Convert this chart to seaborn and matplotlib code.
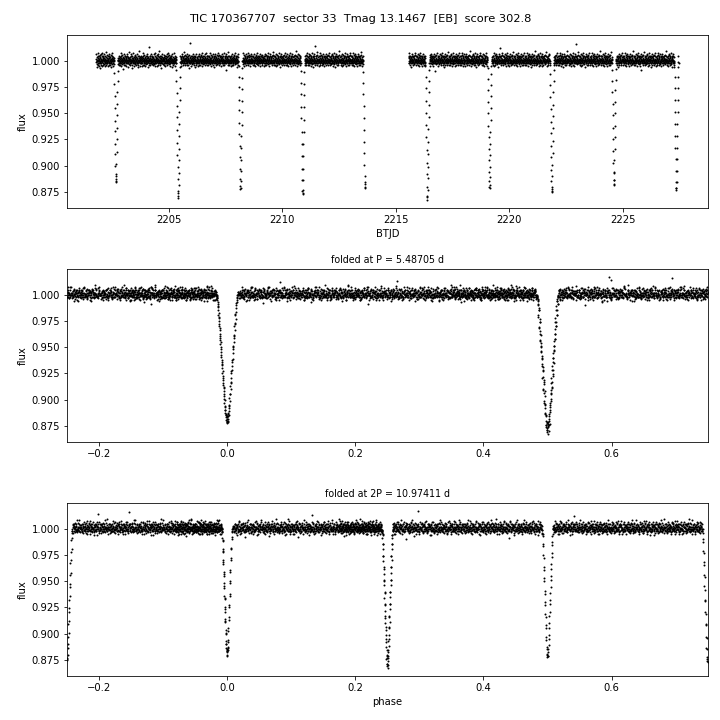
import numpy as np
import pandas as pd
import seaborn as sns
import matplotlib
matplotlib.use("Agg")
import matplotlib.pyplot as plt

# target info
tic = 170367707
sector = 33
tmag = 13.1467
score = 302.8
period = 5.487055
p_label = "5.48705"
p2_label = "10.97411"
t0 = 2202.676
cadence = 10.0 / 1440.0  # 10 min FFI

# the two orbits of the sector (BTJD)
seg_start = [2201.80, 2215.57]
seg_end = [2213.66, 2227.47]

# eclipse mid-times (every half period)
ecl_mid = [2202.676, 2205.420, 2208.163, 2210.907, 2213.650,
           2216.394, 2219.137, 2221.881, 2224.624, 2227.368]

# flux x1000 inside each eclipse, one value per cadence from -13 to +13
ecl_flux = [
    [1000, 997, 988, 978, 966, 955, 943, 933, 921, 911, 900, 890, 885, 884, 887, 892, 902, 913, 925, 936, 948, 959, 970, 981, 990, 997, 1000],
    [998, 991, 981, 969, 957, 946, 934, 922, 910, 899, 887, 876, 871, 869, 874, 882, 893, 905, 916, 928, 940, 951, 963, 974, 985, 994, 999],
    [999, 995, 985, 975, 963, 953, 941, 930, 919, 908, 897, 887, 881, 878, 879, 885, 895, 905, 917, 928, 939, 951, 962, 973, 984, 993, 1000],
    [998, 990, 979, 968, 956, 945, 932, 921, 909, 897, 886, 876, 874, 873, 877, 886, 897, 909, 921, 932, 944, 956, 967, 978, 989, 996, 1000],
    [1000, 997, 989, 979, 968, 957, 945, 934, 923, 912, 901, 890, 883, 879, 880, 884, 893, 903, 914, 925, 936, 947, 958, 970, 980, 990, 998],
    [999, 995, 985, 974, 962, 950, 939, 927, 915, 903, 892, 880, 871, 867, 870, 877, 888, 899, 911, 923, 935, 946, 958, 970, 981, 991, 998],
    [999, 993, 983, 972, 961, 950, 938, 927, 916, 905, 894, 885, 880, 879, 882, 889, 899, 910, 921, 932, 944, 955, 966, 977, 987, 995, 1000],
    [1000, 996, 987, 977, 965, 954, 942, 931, 919, 908, 896, 885, 878, 875, 876, 880, 890, 901, 912, 924, 936, 947, 958, 970, 981, 991, 998],
    [998, 991, 981, 970, 959, 948, 936, 925, 914, 903, 893, 886, 883, 882, 886, 894, 905, 916, 927, 938, 950, 961, 972, 982, 992, 998, 1001],
    [999, 994, 985, 974, 963, 951, 940, 928, 917, 906, 895, 884, 879, 877, 879, 884, 895, 906, 917, 928, 940, 951, 963, 974, 985, 994, 999],
]

# out-of-eclipse scatter, one character per cadence, read as a level of
# 0.0006 in this alphabet ('U' = 1.000)
levels = "0123456789ABCDEFGHIJKLMNOPQRSTUVWXYZabcdefghijklmnopqrstuvwxyz"
noise = (
    "SXeUPaKWTbRYgVOUcQXMTWdSJYUaRVfNXTQbWhUSLZRVaOXcTWPYUeRSMXVbTQiWUNaYSRd"
    "VQbTXLWUcRZOYSfTVNaWQXUdRSKYTbVPWgXURaMTVZQcSWOXhURYbTJVSaXNWeQUTZRbPYV"
    "WRZTcNVSXaQUOgYTWLbRVSXdUPZTHaWQVYeRSNXTbUcWOVRaMYSXfTQUWbKRVZSaXPUiTWY"
    "TUaNXRVeSWQbOYTUJcVRXSZgWTQUaMVYRbSXPdTWUNVaQRYfSXTcUOWKRZVbTSjXQaUWMYR"
    "QYcVSULaXRTbWOZgTVSdQUNXYRaWTMVcSPUXeRWTbQYZKUVaSXRqTWOcUQYNVbRSXTfWaPU"
    "XSbUWNaTRYQeVPXUcSTgWRLZUaVQXdTSMYWbRUOVfXTaSQWkRYUcNVTZXbQSJWUaRVeTXPY"
    "UVaRXOdTWSbQYLUVcXRZTfSQWaNUXVbRTgYSPWdUQZXaTRMVcSWYbUKRXeTVQaSWOUhXRZT"
    "RZTbVSMXWaQUfRYTcOVXSUdWNQaTYRgXVbSUPWcTLZRaXQVeSTUbWRYNaVXiSQTcUWOZRdX"
    "YUcQTXNVaSRWeTOZUbXRJVdSWTaQYwURMXVcSTWbPRZUaXQfVTSNWcRYUbXTKVaSWQeRUO"
    "SWaVRYMTUcXQbSOWfTRVaUNYXdQSWbTLVRgUXaSPZTcWQVUbRXeSTNYaWVRhUQXcTSOWbZ"
    "TRbUXNaVWScQYPTUgXRVdSWMZaTQUbRXeVSOWTcYUKaRXVbSQfWTUNZRaXVSdPWTcUQYhR"
    "VXdSTOaRWUbQZMVTcXSUfRWYaNQTVbXSgUROWcTVaSQYFXeURbTWZVaSNXQcUTiRWVbOSY"
    "WTaQUMXVcRSbYOTWeUXRaSNVQdTZWbUXgSRPVaTUcQWYKXbRSVeTUaNWXQcRSZbTVOUfWY"
    "UScVRNWaTXbQYPUSgVRWdTXLaUQbSZRVeTWNXcUSaQYRbVTOWhXUaRSdTVMQbWZXcRUSfT"
    "RVbXSOaUTWcQZNVRfSXUaWTMbYQVdRXSaUPWgTZVcRNUXbSWaQTeVRYLUcXSbWTaROVdQZ"
    "XTaSVLYcUWRbQOXTeVSUdRWNZaXQVbTSgUPWcRYXaVMSTbUQfWRZaXVScTOUbRWdQSiYVN"
    "SUcRWOaVTXbQYMSUeVRTdXWNaSQZbUVgTRPXcWSaUKVQbRTYeXUSaNWVcTRbQZOXdUSWhV"
    "WRaTUNXbVScQYOTRfUXVaSWLdTQZbURXgVSPWaTcUYMXQbRVeSUTNaWXcRVbQSOZdTUWjR"
    "TXbUSMaWRVcQZPTUeXSRdVWNaUQYbTSgXRPVcWUaSLZTbXRVfQUSaWNTcRXbVYOUdSWQhT"
    "VScXROaUTWbQYNVSfRXUdTWMaZQVbSRgUXPWcTVaRKYSbUQeXTWsNRVcSUbQZOXdTRWiVU"
    "URaVXMbSTWcQZOURgVXSdTWNaUQYbRSeXVPWcTUaSLRZbXQVfTSUaWNRcYVbQXOTdUSWhR"
    "XVbSRNaUWTcQYPXVeSRUdWTMaQZbUSgRXPVcTWaUKYRbSQeXVTaNWUcRSbZQOXdVTWjUS"
    "SWaTUOcRVXbQZMSWfTUVdRXNaYQbTSgUVPRcWXaTLSZbUQeVRWaNTXcSUbYQOVdRTWhXU"
    "TUcRWNaXVSbQYOTUgRWXdVSLaZQbTRfXUPVcSWaRMYTbUQeXWVaNSRcTUbZQOXdVSWiRT"
    "RXaUSMbVWTcQZPRXeUSVdWTNaQYbRUgSXOVcTWaUKZRbSQfXVTaNWUcSRbYQPXdVTWhUS"
    "VTbSXOaRUWcQYNVTfSXRdUWMaZQbVSgXTPRcUWaSLYVbTQeXRUaNSWcTXbZQOVdRSUjWT"
    "WScTRNaXUVbQZOWSgTRXdUVLaQYbWTfRSPXcVUaTMZRbSQeWXUaDTVcRSbYQPXdUTWhRV"
    "UVaXSMbTRWcQYPUVeXSTdRWNaZQbUXgSVORcTWaXKYSbRQfVUTaNWRcSXbZQOUdVSWiTX"
    "SRbWTOaVXUcQZNSRfWTVdXUMaQYbSRgTWPVcXUaRLZTbWQeSVXaNUTcRWbYQOSdVXUhTR"
    "XUaRVNbSTWcQYOXUgRVSdTWLaZQbXUeVRPScTWaUMYRbVQfSXTaNWRcUVbZQOXdSTWjRU"
    "TWcSXMaUVRbQZPTWeSXUdRVNaQYbTSgXWORcUVaSKZXbRQeTWUaNSVcXRbYQPTdUSWhVX"
    "RSbVUOaTXWcQYNRSfVUTdXWMaZQbRVgUSPTcXWaVLYUbSQeRTXaNWVcSUbZQOTdRXWiUS"
    "VXaTROcSWUbQZMVXgTRSdUWNaQYbVTeRXPScWUaTKZSbXQfVRUaoTWcRSbYQOVdXTUhRW"
    "USbRWOaXTVcQYPUSeRWXdVTLaZQbUWgRSOXcVTaRMYWbSQeUXVaNRTcWSbZQPUdRXViTS"
    "WVcSTNaRUXbQZOWVfSTRdXUMaQYbWSgTUPRcXUaSLZVbTQeWRXaNSUcVTbYQOWdSRXhUT"
    "TRaXVObUSWcQYNTRgXVUdSWLaZQbTXeVRPUcSWaXKYRbVQfTSUaNWXcRVbZQOTdUSWjVR"
    "XWbUSNaVRTcQZPXWeUSVdRTMaQYbXUgSWORcVTaUMZSbRQeXWVaNTScUVbYQPXdRSTiWU"
    "STcVXMaWURbQYOSTfVXWdUROaZQbSVgXTPWcURaVLYXbUQeSTWaNVRcXUbZQOSdWTRhVX"
    "VUaRTObXSWcQZNVUgRTXdSWMaQYbVReTUPXcSWaRKZUbTQfVXSaNRWcTUbYQOVdXSRjUW"
    "UXbSWNaTVRcQYPUXeSWTdVRLaZQbUSgWXOTcRVaSMYWbXQeUTRauSVcWXbZQPUdTRViSX"
    "RTcWUOaSXVbQZMRTfWUSdXVNaQYbRWgUTPScVXaWKZTbUQeRSVaNXUcTWbYQORdSVXhTU"
    "WRaUVNbTSXcQYORWgUVTdSXMaZQbWUeVRPTcXSaULYRbVQfWTXaNUScRVbZQPWdTUSjXV"
    "TVbXRObUWScQZNTVeXRWdUSLaQYbTXgRVPUcSWaXMZVbRQeTUSaNWRcXTbYQOTdUWRiSV"
    "SXaVTMcRUWbQYPSXfVTRdWUNaZQbSVgTXOWcURaVKYXbTQeSRUaNVWcXSbZQOSdRUTaVWhX"
    "XSbTWNaVRUcQZOXSgTWVdRUMaQYbXTeWSPVcURaTLZSbWQfXVRaNUTcSWbYQPXdVRUjTS"
    "VUcRSOaXTWbQYNVUeRSXdTWLaZQbVRgSUPXcTWaRMYUbSQeVXTaGWScRUbZQOVdXTSiWR"
    "UWaSXNbRVTcQZPUWfSXRdVTMaQYbUXgRWOTcVSaXKZRbVQeUTWaNSXcRVbYQOUdSWThRX"
    "RVbTUMaSWXcQYORVgTUSdWXNaZQbRSeUTPWcXVaSLYTbXQfRWUaNTVcSXbZQPRdWUXjSV"
    "TScXVNaUWRbQZMTSeXVWdRUOaQYbTWgVSPRcUXaWKZVbSQeTRUaNXWcVSbYQOTdRUWiXS"
    "WXaRSObTVUcQYNWXfRSTdUVLaZQbWReSXPUcTVaRMYSbUQeWTXaNVUcRTbZQPWdUSViRT"
    "STbUXMaVRWcQZOSTgUXVdWRNaQYbSUeXTPVcWRaUKZXbTQfSVWaNRXcUTbYQOSdVWRhUT"
    "UVcWROaXSTbQYPUVeWRXdSTMaZQbUWgRVOScTXaWLYRbSQeUXSaNTRcWVbZQPUdXSTjVW"
)

# build the light curve
times, fluxes = [], []
pos = 0
for a, b in zip(seg_start, seg_end):
    n = min(int(round((b - a) / cadence)) + 1, len(noise) - pos)
    t = a + cadence * np.arange(n)
    codes = np.array([levels.index(c) for c in noise[pos:pos + n]])
    pos += n
    times.append(t)
    fluxes.append(1.0 + (codes - levels.index("U")) * 0.0006)
time = np.concatenate(times)
flux = np.concatenate(fluxes)

for tc, prof in zip(ecl_mid, ecl_flux):
    k = np.round((time - tc) / cadence).astype(int)
    sel = np.abs(k) <= 13
    flux[sel] = np.array(prof)[k[sel] + 13] / 1000.0

df = pd.DataFrame({"time": time, "flux": flux})
df["phase"] = ((df["time"] - t0) / period + 0.25) % 1 - 0.25
df["phase2"] = ((df["time"] - t0) / (2 * period) + 0.25) % 1 - 0.25

fig, axes = plt.subplots(3, 1, figsize=(10, 10), dpi=72)
fig.subplots_adjust(left=0.093, right=0.983, top=0.951, bottom=0.061, hspace=0.353)

kw = dict(s=4, color="k", linewidth=0, legend=False)
sns.scatterplot(data=df, x="time", y="flux", ax=axes[0], **kw)
axes[0].set_xlabel("BTJD")
axes[0].set_ylabel("flux")

sns.scatterplot(data=df, x="phase", y="flux", ax=axes[1], **kw)
axes[1].set_xlim(-0.25, 0.75)
axes[1].set_xlabel("")
axes[1].set_ylabel("flux")
axes[1].set_title(f"folded at P = {p_label} d", fontsize=9.5)

sns.scatterplot(data=df, x="phase2", y="flux", ax=axes[2], **kw)
axes[2].set_xlim(-0.25, 0.75)
axes[2].set_xlabel("phase")
axes[2].set_ylabel("flux")
axes[2].set_title(f"folded at 2P = {p2_label} d", fontsize=9.5)

fig.suptitle(f"TIC {tic}  sector {sector}  Tmag {tmag}  [EB]  score {score}", fontsize=11.4)

fig.savefig("out.png", dpi=72)
